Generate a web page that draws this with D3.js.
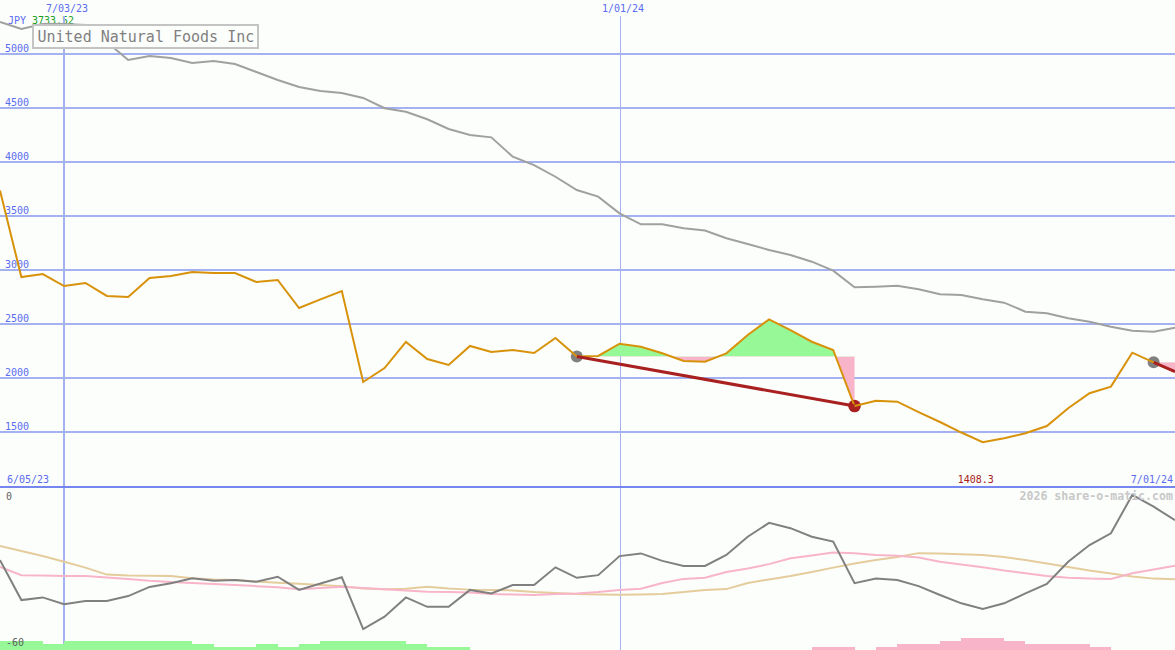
<!DOCTYPE html>
<html><head><meta charset="utf-8">
<script src="https://cdn.jsdelivr.net/npm/d3@7"></script>
<style>html,body{margin:0;padding:0;background:#fcfefc;overflow:hidden}svg{display:block}</style>
</head><body><svg id="c" width="1175" height="650"></svg>
<script>
// ---------- data ----------
const dates = ["2023-06-12","2023-06-19","2023-06-26","2023-07-03","2023-07-10","2023-07-17","2023-07-24","2023-07-31",
"2023-08-07","2023-08-14","2023-08-21","2023-08-28","2023-09-04","2023-09-11","2023-09-18","2023-09-25",
"2023-10-02","2023-10-09","2023-10-16","2023-10-23","2023-10-30","2023-11-06","2023-11-13","2023-11-20","2023-11-27",
"2023-12-04","2023-12-11","2023-12-18","2023-12-25","2024-01-01","2024-01-08","2024-01-15","2024-01-22","2024-01-29",
"2024-02-05","2024-02-12","2024-02-19","2024-02-26","2024-03-04","2024-03-11","2024-03-18","2024-03-25",
"2024-04-01","2024-04-08","2024-04-15","2024-04-22","2024-04-29","2024-05-06","2024-05-13","2024-05-20","2024-05-27",
"2024-06-03","2024-06-10","2024-06-17","2024-06-24","2024-07-01"];
const price = [3733,2934,2962,2851,2879,2759,2750,2925,2944,2981,2971,2971,2888,2907,2648,2727,
2805,1964,2093,2334,2176,2121,2297,2241,2260,2232,2371,2200,2205,2318,2290,2229,2158,2152,
2229,2398,2543,2444,2336,2260,1742,1791,1782,1686,1594,1497,1408.3,1444,1490,1557,1721,1860,1921,2235,2146,2060];
const average = [5291,5226,5273,5273,5263,5106,4940,4977,4958,4912,4931,4903,4829,4755,4690,4653,
4635,4589,4494,4462,4392,4302,4246,4225,4046,3969,3861,3738,3677,3523,3421,3421,3384,3364,
3292,3239,3184,3138,3076,2993,2839,2845,2854,2821,2775,2768,2728,2697,2614,2599,2553,2521,2475,2438,2429,2466];
const oscGray = [-26.5,-41.4,-40.4,-42.9,-41.7,-41.7,-39.9,-36.5,-35.1,-33.3,-34.2,-33.9,-34.6,-32.7,-37.6,-35.2,
-32.9,-52.2,-47.6,-40.4,-43.9,-43.9,-37.6,-38.9,-35.8,-35.8,-29.2,-33.1,-32.1,-25.0,-24.0,-26.8,-28.7,-28.7,
-24.6,-17.8,-12.6,-14.6,-17.8,-19.6,-35.1,-33.4,-33.9,-36.2,-39.5,-42.6,-44.7,-42.6,-38.9,-35.4,-27.1,-20.9,-16.5,-2.2,-6.6,-11.6];
const oscPink = [-29.0,-32.1,-32.2,-32.4,-32.4,-33.0,-33.5,-34.2,-34.7,-35.0,-35.4,-35.8,-36.2,-36.6,-37.4,-36.9,
-36.4,-36.9,-37.4,-37.8,-38.3,-38.4,-38.6,-39.1,-39.3,-39.5,-39.1,-38.9,-38.4,-37.6,-37.2,-35.0,-33.5,-33.1,
-30.9,-29.6,-28.0,-25.8,-24.8,-23.7,-23.9,-24.6,-24.9,-25.5,-27.1,-28.1,-29.2,-30.4,-31.4,-32.4,-33.1,-33.4,-33.5,-31.4,-30.0,-28.6];
const oscTan = [-21.2,-23.1,-25.0,-27.1,-29.3,-31.9,-32.2,-32.3,-32.4,-33.3,-33.7,-33.9,-34.5,-34.9,-35.3,-35.8,
-36.2,-37.1,-37.4,-37.2,-36.4,-37.1,-37.5,-37.6,-37.8,-38.4,-38.8,-39.1,-39.3,-39.4,-39.3,-39.1,-38.4,-37.6,
-37.3,-35.0,-33.7,-32.4,-30.9,-29.3,-27.8,-26.5,-25.3,-23.9,-24.0,-24.3,-24.6,-25.3,-26.5,-27.8,-29.1,-30.4,-31.5,-32.6,-33.4,-33.6];
const barLevels = [3,3,2,3,3,3,3,3,3,2,1,1,2,1,2,3,3,3,3,2,1,1,0,0,0,0,0,0,0,0,0,0,0,0,0,0,0,0,
-1,-1,0,-1,-2,-2,-3,-4,-4,-3,-2,-2,-2,-1,0,0,0];
const priceTicks = [5000,4500,4000,3500,3000,2500,2000,1500];
const lowTicks = [0,-60];
const markerDates = ["2023-07-03","2024-01-01"];
const markerLabels = ["7/03/23","1/01/24"];
const swings = [{from:27,to:40,done:true},{from:54,to:55,done:false}];
const minIndex = 46;
const minLabel = "1408.3";
const startLabel = "6/05/23";
const endLabel = "7/01/24";
const currency = "JPY";
const firstValue = "3733.52";
const titleText = "United Natural Foods Inc";
const credit = "2026 share-o-matic.com";

// ---------- setup ----------
const W = 1175, H = 650, SPLIT = 487;
const parse = d3.utcParse("%Y-%m-%d");
const D = dates.map(parse);
const svg = d3.select("#c");
const mono = "'DejaVu Sans Mono', 'Liberation Mono', monospace";
const BG = "#fcfefc";

const x = d3.scaleUtc().domain([D[0], D[D.length-1]]).range([0, 1175]);
const y = d3.scaleLinear().domain([1500, 5000]).range([432.2, 53.5]);
const yLow = d3.scaleLinear().domain([-60, 0]).range([650, 489]);
const barH = d3.scaleLinear().domain([0, 4]).range([0, 12]);

svg.append("rect").attr("width", W).attr("height", H).attr("fill", BG);

const defs = svg.append("defs");
defs.append("clipPath").attr("id","cpTop").append("rect").attr("x",0).attr("y",0).attr("width",W).attr("height",SPLIT);
defs.append("clipPath").attr("id","cpLow").append("rect").attr("x",0).attr("y",SPLIT).attr("width",W).attr("height",H-SPLIT);

// horizontal grid
svg.append("g").selectAll("line").data(priceTicks).join("line")
  .attr("x1",0).attr("x2",W).attr("y1",d=>Math.round(y(d))).attr("y2",d=>Math.round(y(d)))
  .attr("stroke","#a4b2f2").attr("stroke-width",2).attr("shape-rendering","crispEdges");
svg.append("g").selectAll("text").data(priceTicks).join("text")
  .attr("x",5).attr("y",d=>y(d)-2).text(d=>d)
  .attr("font-family",mono).attr("font-size",10).attr("fill","#5a6cf0");

// header text (under marker lines)
svg.append("text").attr("x",8).attr("y",24).text(currency)
  .attr("font-family",mono).attr("font-size",10).attr("fill","#5a6cf0");
svg.append("text").attr("x",32).attr("y",24).text(firstValue)
  .attr("font-family",mono).attr("font-size",10).attr("fill","#20a020");

// vertical date markers
const mk = svg.append("g");
markerDates.forEach((s,k)=>{
  const xv = Math.round(x(parse(s)));
  mk.append("line").attr("x1",xv).attr("x2",xv).attr("y1",16).attr("y2",H)
    .attr("stroke","#a4b2f2").attr("stroke-width",k===0?2:1).attr("shape-rendering","crispEdges");
  mk.append("text").attr("x",xv+3).attr("y",12).attr("text-anchor","middle").text(markerLabels[k])
    .attr("font-family",mono).attr("font-size",10).attr("fill","#5a6cf0");
});

// top panel
const topG = svg.append("g").attr("clip-path","url(#cpTop)");

// swing fills
swings.forEach((s,k)=>{
  const idx = d3.range(s.from, s.to+1);
  const base = y(price[s.from]);
  defs.append("clipPath").attr("id","up"+k).append("rect").attr("x",0).attr("y",0).attr("width",W).attr("height",base);
  defs.append("clipPath").attr("id","dn"+k).append("rect").attr("x",0).attr("y",base).attr("width",W).attr("height",H);
  const area = d3.area().x(i=>x(D[i])).y0(base).y1(i=>y(price[i]));
  topG.append("path").attr("d",area(idx)).attr("fill","#96f896").attr("clip-path","url(#up"+k+")");
  topG.append("path").attr("d",area(idx)).attr("fill","#f8b4c8").attr("clip-path","url(#dn"+k+")");
});

// swing dots
swings.forEach(s=>{
  topG.append("circle").attr("cx",x(D[s.from])).attr("cy",y(price[s.from])).attr("r",6).attr("fill","#808080");
  if (s.done) topG.append("circle").attr("cx",x(D[s.to])).attr("cy",y(price[s.to])).attr("r",6.3).attr("fill","#a82020");
});

const lineTop = vals => d3.line().x((d,i)=>x(D[i])).y(d=>y(d))(vals);
topG.append("path").attr("d",lineTop(average)).attr("fill","none").attr("stroke","#a0a0a0").attr("stroke-width",2);
topG.append("path").attr("d",lineTop(price)).attr("fill","none").attr("stroke","#d8920a").attr("stroke-width",2);

swings.forEach(s=>{
  topG.append("line").attr("x1",x(D[s.from])).attr("y1",y(price[s.from]))
    .attr("x2",x(D[s.to])).attr("y2",y(price[s.to])).attr("stroke","#a82020").attr("stroke-width",3);
});

// title box
svg.append("rect").attr("x",33).attr("y",25).attr("width",225).attr("height",23)
  .attr("fill",BG).attr("stroke","#c4c4c4").attr("stroke-width",2);
svg.append("text").attr("x",37.5).attr("y",41.5).text(titleText)
  .attr("font-family",mono).attr("font-size",15).attr("fill","#808080");

// separator and bottom-of-top labels
svg.append("line").attr("x1",0).attr("x2",W).attr("y1",SPLIT).attr("y2",SPLIT)
  .attr("stroke","#7686f0").attr("stroke-width",2).attr("shape-rendering","crispEdges");
svg.append("text").attr("x",7).attr("y",482.5).text(startLabel)
  .attr("font-family",mono).attr("font-size",10).attr("fill","#5a6cf0");
svg.append("text").attr("x",1173).attr("y",482.5).attr("text-anchor","end").text(endLabel)
  .attr("font-family",mono).attr("font-size",10).attr("fill","#5a6cf0");
svg.append("text").attr("x",x(D[minIndex])-7).attr("y",482.5).attr("text-anchor","middle").text(minLabel)
  .attr("font-family",mono).attr("font-size",10).attr("fill","#a82020");

// lower panel
const lowG = svg.append("g").attr("clip-path","url(#cpLow)");
lowG.append("g").selectAll("rect").data(barLevels.map((v,i)=>({v,i})).filter(d=>d.v!==0)).join("rect")
  .attr("x",d=>x(D[d.i])).attr("width",d=>x(D[d.i+1])-x(D[d.i]))
  .attr("y",d=>H-barH(Math.abs(d.v))).attr("height",d=>barH(Math.abs(d.v)))
  .attr("fill",d=>d.v>0?"#96f896":"#f8b4c8").attr("shape-rendering","crispEdges");

const lineLow = vals => d3.line().x((d,i)=>x(D[i])).y(d=>yLow(d))(vals);
lowG.append("path").attr("d",lineLow(oscTan)).attr("fill","none").attr("stroke","#e4cc9c").attr("stroke-width",2);
lowG.append("path").attr("d",lineLow(oscPink)).attr("fill","none").attr("stroke","#f8b4c8").attr("stroke-width",2);
lowG.append("path").attr("d",lineLow(oscGray)).attr("fill","none").attr("stroke","#808080").attr("stroke-width",2);

svg.append("g").selectAll("text").data(lowTicks).join("text")
  .attr("x",6).attr("y",d=>d===0?yLow(d)+10.5:yLow(d)-4).text(d=>String(d))
  .attr("font-family",mono).attr("font-size",10).attr("fill","#606060");

svg.append("text").attr("x",1173).attr("y",500).attr("text-anchor","end").text(credit)
  .attr("font-family",mono).attr("font-size",11.6).attr("font-weight","bold").attr("fill","#c8c8c8");
</script></body></html>
